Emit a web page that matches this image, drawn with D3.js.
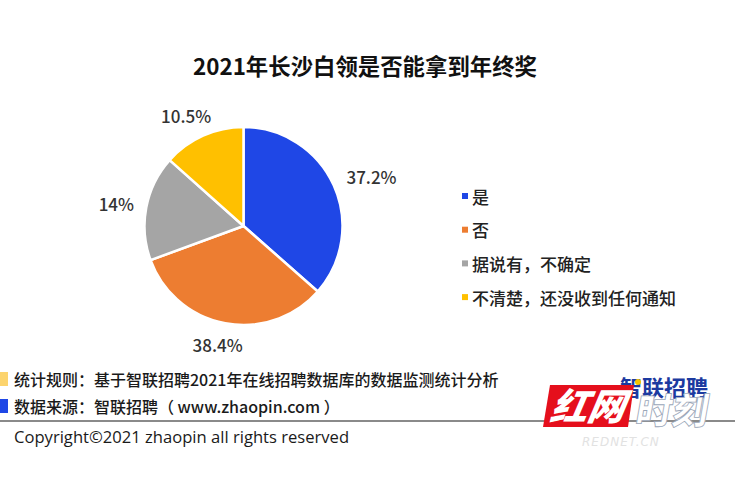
<!DOCTYPE html>
<html><head><meta charset="utf-8">
<script src="https://cdn.jsdelivr.net/npm/d3@7"></script>
<style>body{margin:0;background:#fff;overflow:hidden}</style>
</head><body><svg id="c" width="735" height="500"></svg>
<script>
// ---- data ----
const title = "2021年长沙白领是否能拿到年终奖";
const categories = ["是", "否", "据说有，不确定", "不清楚，还没收到任何通知"];
const labelValues = [37.2, 38.4, 14, 10.5];          // percentages printed on the chart
const sliceShares = [36.5, 32.9, 17.2, 13.4];        // slice sizes as drawn in the picture
const colors = ["#1f47e6", "#ed7d31", "#a5a5a5", "#ffc000"];
const notes = ["统计规则：基于智联招聘2021年在线招聘数据库的数据监测统计分析",
               "数据来源：智联招聘（ www.zhaopin.com ）"];
const noteColors = ["#fcd46e", "#1f47e6"];
const copyright = "Copyright©2021 zhaopin all rights reserved";

const svg = d3.select("#c");
const FONT = "'Noto Sans CJK SC','Noto Sans',sans-serif";

svg.append("text").attr("x", 365).attr("y", 75).attr("text-anchor", "middle")
  .attr("font-family", FONT).attr("font-weight", "bold").attr("font-size", 22.4)
  .attr("fill", "#111").text(title);

// ---- pie ----
const cx = 243.5, cy = 226, R = 99;
const g = svg.append("g").attr("transform", `translate(${cx},${cy})`);
const pie = d3.pie().sort(null).value(d => d.share);
const data = categories.map((c, i) => ({cat: c, share: sliceShares[i], label: labelValues[i], color: colors[i]}));
const arcs = pie(data);
const arc = d3.arc().innerRadius(0).outerRadius(R);
g.selectAll("path.slice").data(arcs).enter().append("path")
  .attr("d", arc).attr("fill", d => d.data.color)
  .attr("stroke", "#fff").attr("stroke-width", 2.5).attr("stroke-linejoin", "round");

g.selectAll("text.lab").data(arcs).enter().append("text")
  .attr("font-family", FONT).attr("font-size", 17).attr("font-weight", 500).attr("fill", "#333")
  .attr("text-anchor", "middle").attr("dominant-baseline", "central")
  .each(function(d) {
    const a = (d.startAngle + d.endAngle) / 2;
    const dx = Math.sin(a), dy = -Math.cos(a);
    const txt = d.data.label + "%";
    const hw = txt.length * 5.5, hh = 8;
    const r = R + 14;
    d3.select(this).attr("x", dx * r + dx * hw).attr("y", dy * r + dy * hh).text(txt);
  });

// ---- legend ----
const lg = svg.append("g").attr("transform", "translate(462,196)");
const item = lg.selectAll("g").data(data).enter().append("g")
  .attr("transform", (d, i) => `translate(0,${i * 33.7})`);
item.append("rect").attr("x", 0).attr("y", -3).attr("width", 6).attr("height", 6).attr("fill", d => d.color);
item.append("text").attr("x", 10).attr("y", 0).attr("dominant-baseline", "central")
  .attr("font-family", FONT).attr("font-size", 17).attr("font-weight", 500).attr("fill", "#222").text(d => d.cat);

// ---- footer ----
const ng = svg.append("g");
notes.forEach((t, i) => {
  const y = 379 + i * 27;
  ng.append("rect").attr("x", 0).attr("y", y - 7).attr("width", 8).attr("height", 14).attr("fill", noteColors[i]);
  ng.append("text").attr("x", 14).attr("y", y).attr("dominant-baseline", "central")
    .attr("font-family", FONT).attr("font-size", 16).attr("font-weight", 500).attr("fill", "#1a1a1a").text(t);
});
svg.append("line").attr("x1", 0).attr("x2", 735).attr("y1", 421).attr("y2", 421)
  .attr("stroke", "#8a8a8a").attr("stroke-width", 2);
svg.append("text").attr("x", 14).attr("y", 443)
  .attr("font-family", "'Open Sans','Noto Sans',sans-serif").attr("font-size", 16.6).attr("fill", "#1a1a1a").text(copyright);

// ---- watermark logo ----
const wm = svg.append("g");
wm.append("text").attr("x", 620).attr("y", 396).attr("font-family", FONT).attr("font-weight", "bold")
  .attr("font-size", 22).attr("fill", "#1c3aa0").text("智联招聘");
wm.append("circle").attr("cx", 638).attr("cy", 382).attr("r", 3).attr("fill", "#f5c400");
wm.append("path").attr("d", "M550,385 L634,385 L628,427 L543,427 Z").attr("fill", "#e50f1c");
wm.append("text").attr("x", 549).attr("y", 420).attr("font-family", FONT).attr("font-weight", "900")
  .attr("font-style", "italic").attr("font-size", 37).attr("fill", "#fff")
  .attr("transform", "skewX(-10) translate(74,0)").text("红网");
wm.append("text").attr("x", 634).attr("y", 424).attr("font-family", FONT).attr("font-weight", "900")
  .attr("font-size", 36).attr("fill", "#fff").attr("stroke", "#9aa6b8").attr("stroke-width", 0.8)
  .attr("transform", "skewX(-10) translate(75,0)").text("时刻");
wm.append("text").attr("x", 582).attr("y", 446).attr("font-family", "'DejaVu Sans',sans-serif")
  .attr("font-style", "italic").attr("font-size", 12).attr("letter-spacing", 1).attr("fill", "#e2e2e2").text("REDNET.CN");
</script></body></html>
